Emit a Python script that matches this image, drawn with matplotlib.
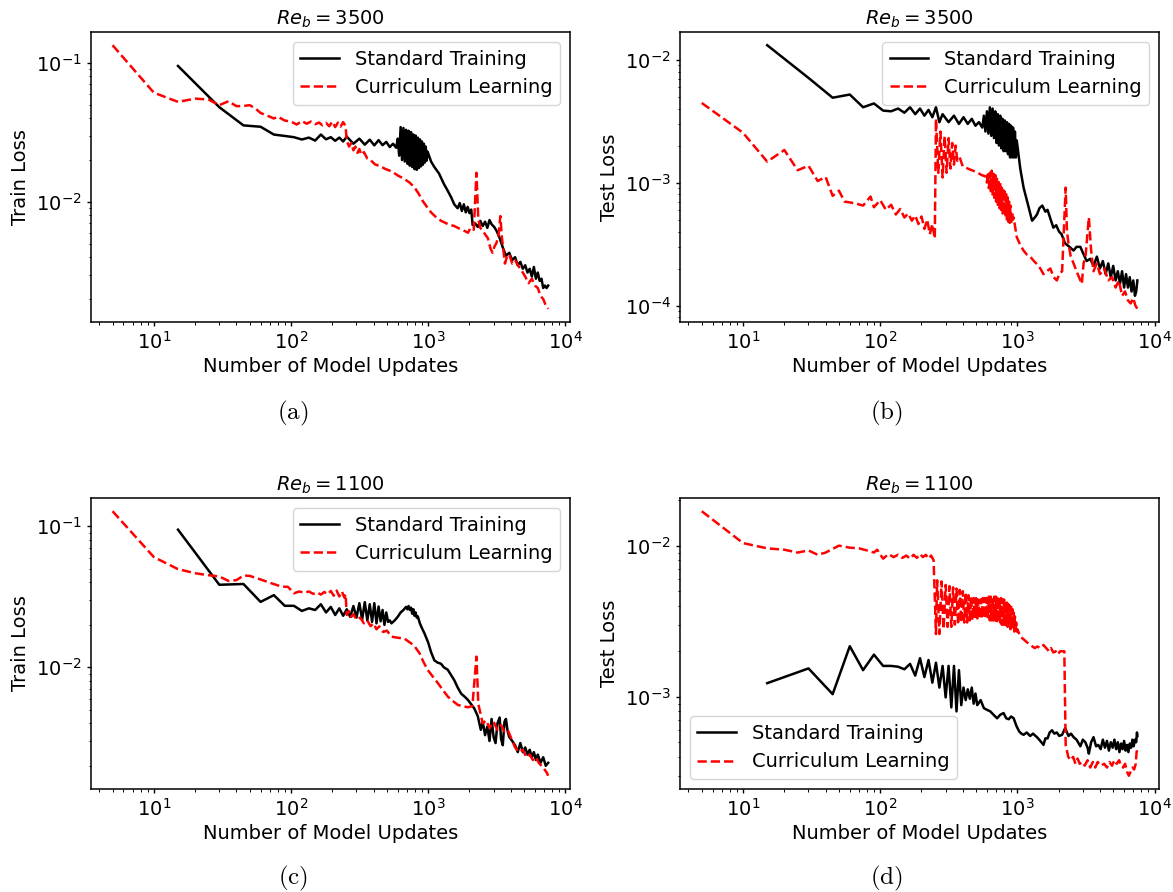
import numpy as np
import matplotlib
matplotlib.use("Agg")
from matplotlib import pyplot as plt

# ---- (a) Re_b = 3500, train loss ----
a_std_x = [15, 30, 45, 60, 75, 90, 105, 120, 135, 150, 165, 180, 195, 210, 225, 240, 255,
           285, 315, 345, 375, 405, 435, 465, 495, 525, 555, 585,
           600, 615, 630, 645, 660, 675, 690, 705, 720, 735, 750, 765, 780, 795, 810, 825,
           840, 855, 870, 885, 900, 915, 930, 945, 960, 975, 990,
           1050, 1110, 1200, 1300, 1390, 1470, 1550, 1640, 1700, 1760, 1820, 1880, 1940, 2000,
           2060, 2110, 2200, 2300, 2400, 2500, 2600, 2700, 2800, 2900, 3030, 3150, 3320, 3500,
           3690, 3900, 4100, 4300, 4500, 4700, 4900, 5100, 5300, 5500, 5700, 5900, 6100, 6300,
           6500, 6700, 6900, 7100, 7300, 7500]
a_std_y = [0.095, 0.048, 0.0355, 0.0347, 0.0305, 0.0298, 0.0292, 0.0281, 0.0290, 0.0276,
           0.0305, 0.0282, 0.0292, 0.0275, 0.0290, 0.0272, 0.0295,
           0.0262, 0.0285, 0.0258, 0.0280, 0.0255, 0.0278, 0.0256, 0.0270, 0.0248, 0.0262, 0.0245,
           0.0285, 0.0215, 0.0345, 0.0200, 0.0340, 0.0195, 0.0330, 0.0188, 0.0325, 0.0182,
           0.0318, 0.0178, 0.0305, 0.0172, 0.0300, 0.0170, 0.0290, 0.0175, 0.0282, 0.0180,
           0.0272, 0.0185, 0.0262, 0.0192, 0.0250, 0.0198, 0.0230,
           0.0195, 0.0178, 0.0160, 0.0135, 0.0120, 0.0108, 0.0096, 0.0090, 0.0098, 0.0086,
           0.0096, 0.0084, 0.0092, 0.0083, 0.0088, 0.0068, 0.0070, 0.0066, 0.0073, 0.0067,
           0.0072, 0.0065, 0.0074, 0.0069, 0.0066, 0.0062, 0.0055, 0.0047,
           0.0041, 0.0043, 0.0038, 0.0040, 0.0035, 0.0037, 0.0033, 0.0035, 0.0031, 0.0033,
           0.0029, 0.0034, 0.0028, 0.0031, 0.0027, 0.0028, 0.0024, 0.0025, 0.0024, 0.0025]
a_cur_x = [5, 10, 15, 20, 25, 30, 35, 40, 45, 50, 55, 60, 70, 75, 80, 90, 100, 110,
           120, 130, 140, 150, 160, 170, 180, 190, 200, 210, 220, 230, 240, 250,
           255, 265, 275, 285, 295, 305, 315, 325, 340, 360, 380, 410, 450, 490, 540, 600,
           670, 730, 795, 850, 915, 980, 1050, 1150, 1245, 1400, 1550, 1700, 1830, 1950,
           2040, 2150, 2250, 2320, 2400, 2550, 2720, 2850, 2950, 3050, 3130, 3250, 3360,
           3450, 3630, 3800, 3930, 4100, 4300, 4600, 4900, 5100, 5400, 5700, 6000, 6300,
           6600, 6900, 7200, 7500]
a_cur_y = [0.134, 0.061, 0.0524, 0.0553, 0.0545, 0.0496, 0.053, 0.0488, 0.0490, 0.0496,
           0.047, 0.0436, 0.0410, 0.0398, 0.0410, 0.0385, 0.0378, 0.0360,
           0.0382, 0.0365, 0.0378, 0.0362, 0.0372, 0.0355, 0.0370, 0.0350, 0.0378, 0.0345,
           0.0372, 0.0348, 0.0375, 0.0350,
           0.0275, 0.0250, 0.0265, 0.0235, 0.0250, 0.0225, 0.0240, 0.0218, 0.0228, 0.0205,
           0.0200, 0.0186, 0.0180, 0.0172, 0.0166, 0.0155,
           0.0146, 0.0138, 0.0127, 0.0115, 0.0101, 0.0092, 0.0084, 0.0077, 0.0073, 0.0069,
           0.0067, 0.0064, 0.0062, 0.0060,
           0.0065, 0.0063, 0.0162, 0.0075, 0.0065, 0.0060, 0.0055, 0.0046, 0.0043, 0.0048,
           0.0050, 0.0056, 0.0079,
           0.0055, 0.0036, 0.0042, 0.0041, 0.0036, 0.0038, 0.0034, 0.0031, 0.0029, 0.0026,
           0.0028, 0.0025, 0.0024, 0.0021, 0.0020, 0.0018, 0.0017]

# ---- (b) Re_b = 3500, test loss ----
b_std_x = [15, 30, 45, 60, 75, 90, 105, 120, 135, 150, 165, 180, 195, 210, 225, 240, 255,
           270, 285, 315, 345, 375, 405, 435, 465, 495, 525, 555,
           570, 585, 600, 615, 630, 645, 660, 675, 690, 705, 720, 735, 750, 765, 780, 795,
           810, 825, 840, 855, 870, 885, 900, 915, 930, 945, 960, 975, 990,
           1050, 1110, 1200, 1280, 1340, 1390, 1450, 1520, 1600, 1660, 1750, 1830, 1920,
           2010, 2100, 2230, 2400, 2570, 2700, 2880, 3000, 3200, 3400, 3590, 3800, 4000,
           4200, 4400, 4600, 4800, 5000, 5200, 5400, 5600, 5800, 6000, 6200, 6400, 6600,
           6800, 7000, 7200, 7350, 7500]
b_std_y = [0.0131, 0.0071, 0.0049, 0.0052, 0.0041, 0.0044, 0.00385, 0.0038, 0.0040, 0.0037,
           0.0041, 0.0036, 0.0040, 0.0035, 0.0039, 0.0034, 0.0041,
           0.0031, 0.0036, 0.0031, 0.0035, 0.0030, 0.0034, 0.0030, 0.0033, 0.0029, 0.0031, 0.0028,
           0.0035, 0.0026, 0.0038, 0.0025, 0.0041, 0.0024, 0.0040, 0.0023, 0.0038, 0.0021,
           0.0036, 0.0020, 0.0035, 0.0019, 0.0033, 0.0018, 0.0032, 0.0018, 0.0031, 0.0017,
           0.0030, 0.0016, 0.0029, 0.0016, 0.0028, 0.0016, 0.0026, 0.0016, 0.0022,
           0.0013, 0.00091, 0.00065, 0.00049, 0.00052, 0.00055, 0.00062, 0.00065, 0.00058,
           0.00060, 0.00050, 0.00043, 0.00045, 0.00040, 0.00038, 0.00032, 0.00030, 0.00028,
           0.00030, 0.00030, 0.00027, 0.00023, 0.00024, 0.00021, 0.00025, 0.00020,
           0.00023, 0.00018, 0.00022, 0.00017, 0.00021, 0.00016, 0.00019, 0.00015, 0.00019,
           0.00014, 0.00018, 0.00014, 0.00017, 0.00013, 0.00016, 0.00012, 0.00013, 0.00016]
b_cur_x = [5, 10, 15, 20, 25, 30, 35, 40, 45, 50, 55, 65, 75, 85, 90, 100, 110, 120, 130,
           140, 150, 160, 170, 180, 190, 200, 210, 220, 230, 240, 250, 255,
           265, 275, 285, 295, 305, 315, 325, 335, 345, 355, 365, 380, 400, 450, 500, 550, 590,
           600, 610, 620, 630, 640, 650, 660, 670, 680, 690, 700, 710, 720, 730, 740, 750,
           760, 770, 780, 790, 800, 810, 820, 830, 840, 850, 860, 870, 880, 890, 900, 915,
           930, 940,
           990, 1050, 1110, 1170, 1240, 1320, 1390, 1470, 1550, 1640, 1740, 1840, 1940, 2020,
           2120, 2250, 2300, 2360, 2450, 2570, 2700, 2880, 2950, 3040, 3150, 3320, 3450, 3590,
           3800, 4000, 4300, 4600, 4900, 5200, 5500, 5800, 6100, 6400, 6700, 7000, 7250, 7500]
b_cur_y = [0.00444, 0.00254, 0.00148, 0.00184, 0.00126, 0.00137, 0.00103, 0.00111, 0.00078,
           0.00086, 0.00070, 0.00068, 0.00065, 0.00077, 0.00063, 0.00072, 0.00060, 0.00066,
           0.00055, 0.00061, 0.00052, 0.00056, 0.00049, 0.00054, 0.00046, 0.00053, 0.00042,
           0.00050, 0.00038, 0.00046, 0.00035, 0.0033,
           0.0012, 0.0026, 0.0011, 0.0024, 0.0012, 0.0023, 0.0013, 0.0021, 0.0014, 0.0020,
           0.0015, 0.0016, 0.00135, 0.00128, 0.00122, 0.00115, 0.00112,
           0.00100, 0.00122, 0.00090, 0.00120, 0.00085, 0.00125, 0.00080, 0.00118, 0.00075,
           0.00115, 0.00070, 0.00110, 0.00066, 0.00105, 0.00062, 0.00100, 0.00060, 0.00095,
           0.00056, 0.00090, 0.00055, 0.00088, 0.00052, 0.00080, 0.00050, 0.00076, 0.00048,
           0.00070, 0.00047, 0.00065, 0.00046, 0.00058, 0.00050, 0.00052,
           0.00036, 0.00031, 0.00028, 0.00026, 0.00025, 0.00023, 0.000217, 0.00020, 0.00018,
           0.00019, 0.00020, 0.00017, 0.00016, 0.00018, 0.00019, 0.00091, 0.00040, 0.00032,
           0.00025, 0.00022, 0.00019, 0.00016, 0.00015, 0.00022, 0.00026, 0.00052, 0.00028,
           0.00019, 0.00022, 0.00018, 0.00020, 0.00016, 0.00017, 0.00014, 0.00016, 0.00012,
           0.00013, 0.00011, 0.000104, 0.000115, 0.000100, 0.000094]

# ---- (c) Re_b = 1100, train loss ----
c_std_x = [15, 30, 45, 60, 75, 90, 105, 120, 135, 150, 165, 180, 195, 210, 225, 240, 255,
           270, 285, 300, 315, 330, 345, 360, 375, 390, 405, 420, 435, 450, 465, 480, 495,
           510, 525, 540, 570, 600, 630, 660, 690, 705, 720, 735, 750, 765, 780, 795, 810,
           825, 840, 870, 900, 940, 1000, 1050, 1110, 1170, 1240, 1300, 1390, 1470, 1550,
           1640, 1740, 1840, 1940, 2050, 2170, 2300, 2420, 2500, 2600, 2700, 2800, 2900,
           3000, 3100, 3200, 3320, 3400, 3500, 3600, 3690, 3800, 3900, 4100, 4300, 4500,
           4700, 4900, 5100, 5300, 5500, 5700, 5900, 6100, 6300, 6600, 6900, 7200, 7500]
c_std_y = [0.0947, 0.0385, 0.039, 0.0291, 0.0325, 0.0273, 0.0273, 0.0251, 0.0262, 0.0255,
           0.0280, 0.0245, 0.0268, 0.0235, 0.0262, 0.0232, 0.0258,
           0.0228, 0.0272, 0.0225, 0.0285, 0.0218, 0.0290, 0.0215, 0.0280, 0.0210, 0.0285,
           0.0205, 0.0270, 0.0212, 0.0255, 0.0200, 0.0245,
           0.0210, 0.0215, 0.0205, 0.0215, 0.0228, 0.0245, 0.0255, 0.0268, 0.0258, 0.0272,
           0.0255, 0.0265, 0.0240, 0.0258, 0.0232, 0.0245,
           0.0225, 0.0230, 0.0205, 0.0190, 0.0174, 0.0150, 0.0128, 0.0112, 0.0108, 0.0106,
           0.0100, 0.0096, 0.0088, 0.0081,
           0.0072, 0.0065, 0.0062, 0.0059, 0.0055, 0.0051, 0.0045, 0.0036, 0.0041, 0.0033,
           0.0038, 0.0030, 0.0043,
           0.0032, 0.0029, 0.0040, 0.0044, 0.0031, 0.0028, 0.0041, 0.0043, 0.0035, 0.0032,
           0.0030, 0.0028, 0.0025,
           0.0029, 0.0025, 0.0027, 0.0024, 0.0026, 0.0023, 0.0025, 0.0022, 0.0024, 0.0021,
           0.0023, 0.0020, 0.0021]
c_cur_x = [5, 10, 15, 20, 25, 30, 35, 40, 45, 50, 60, 70, 85, 95, 105, 115, 125, 135, 145,
           155, 165, 175, 185, 195, 205, 215, 225, 235, 245, 250,
           255, 265, 275, 285, 300, 320, 340, 360, 380, 400, 420, 440, 470, 500, 540, 600,
           670, 750, 800, 865, 920, 990, 1080, 1180, 1280, 1390, 1500, 1650, 1800, 1940,
           2100, 2250, 2320, 2500, 2650, 2800, 3000, 3200, 3400, 3600, 3800, 4000, 4300,
           4600, 4900, 5200, 5500, 5800, 6100, 6400, 6700, 7000, 7300, 7500]
c_cur_y = [0.128, 0.0605, 0.0497, 0.0465, 0.0450, 0.0441, 0.0410, 0.0415, 0.0448, 0.0445,
           0.0420, 0.0398, 0.0374, 0.0372, 0.0335, 0.0345, 0.0338, 0.0345, 0.0332,
           0.0340, 0.0328, 0.0342, 0.0330, 0.0348, 0.0322, 0.0350, 0.0318, 0.0345, 0.0312,
           0.0330,
           0.0235, 0.0250, 0.0228, 0.0238, 0.0218, 0.0225, 0.0205, 0.0215, 0.0196, 0.0205,
           0.0186, 0.0195, 0.0178, 0.0182, 0.0165, 0.0162,
           0.0160, 0.0148, 0.0140, 0.0126, 0.0110, 0.0096, 0.0086, 0.0077, 0.0069, 0.0062,
           0.0058, 0.0054, 0.0053, 0.0052,
           0.0053, 0.0119, 0.0055, 0.0040, 0.0042, 0.0037, 0.0041, 0.0036, 0.0039, 0.0035,
           0.0036, 0.0032, 0.0027,
           0.0025, 0.0026, 0.0023, 0.0024, 0.0022, 0.0023, 0.0021, 0.0020, 0.0019, 0.0018,
           0.0017]

# ---- (d) Re_b = 1100, test loss ----
d_std_x = [15, 30, 45, 60, 75, 90, 105, 120, 135, 150, 165, 180, 195, 210, 225, 240, 255,
           270, 285, 300, 315, 330, 345, 360, 375, 390, 405, 420, 435, 450, 465, 480, 495,
           510, 540, 570, 600, 635, 670, 712, 750, 793, 830, 865, 900, 940, 985, 1030, 1070,
           1110, 1170, 1240, 1300, 1390, 1470, 1550, 1600, 1660, 1720, 1790, 1860, 1940,
           2020, 2120, 2230, 2360, 2460, 2570, 2700, 2880, 3000, 3130, 3250, 3320, 3450,
           3590, 3750, 3890, 4050, 4200, 4350, 4500, 4650, 4800, 4950, 5100, 5250, 5400,
           5550, 5700, 5850, 6000, 6150, 6300, 6450, 6600, 6750, 6900, 7050, 7200, 7350,
           7450, 7500]
d_std_y = [0.00123, 0.00154, 0.00104, 0.00216, 0.0015, 0.0019, 0.0016, 0.0016, 0.00158,
           0.00152, 0.00165, 0.00138, 0.0018, 0.00135, 0.00175, 0.00124, 0.00168,
           0.00115, 0.0016, 0.00099, 0.0016, 0.00085, 0.0016, 0.0008, 0.0015, 0.00088,
           0.00115, 0.00095, 0.00112, 0.00097, 0.00115, 0.0009, 0.00105,
           0.00088, 0.00095, 0.00084, 0.00082, 0.0008, 0.00076, 0.00072, 0.00076, 0.00078,
           0.00072, 0.00071, 0.00074, 0.00072, 0.00064, 0.00059, 0.00057,
           0.00056, 0.00058, 0.00055, 0.00057, 0.00054, 0.00051, 0.00048, 0.00053, 0.00053,
           0.00058, 0.0006, 0.00057, 0.00058,
           0.00055, 0.00056, 0.00062, 0.00055, 0.00057, 0.00054, 0.00052, 0.00047, 0.00052,
           0.0005, 0.00046, 0.00042, 0.0005,
           0.00054, 0.00047, 0.00048, 0.00045, 0.00052, 0.00046, 0.00051, 0.00044, 0.0005,
           0.00046, 0.00052, 0.00045, 0.0005,
           0.00043, 0.00049, 0.00045, 0.00051, 0.00044, 0.00048, 0.00043, 0.00049, 0.00046,
           0.00052, 0.00047, 0.00052, 0.00050,
           0.00058, 0.00055]
d_cur_x = [5, 10, 15, 20, 25, 30, 35, 40, 50, 60, 70, 80, 90, 95, 105, 115, 125, 135, 145,
           155, 165, 175, 185, 195, 205, 215, 225, 235, 245, 255,
           260, 270, 280, 290, 300, 310, 320, 330, 340, 350, 360, 370, 380, 390, 400, 410,
           420, 430, 440, 450, 460, 470, 480, 490, 500, 510, 520, 530, 540, 550, 560, 570,
           580, 590, 600, 610, 620, 630, 640, 650, 660, 670, 680, 690, 700, 710, 720, 730,
           740, 750, 760, 770, 780, 790, 800, 810, 820, 830, 840, 850, 860, 870, 880, 890,
           900, 910, 920, 930, 940, 950, 960, 970, 980, 990, 1000,
           1050, 1110, 1170, 1240, 1340, 1400, 1470, 1550, 1620, 1700, 1760, 1830, 1900,
           1970, 2050, 2120, 2200, 2250, 2350, 2450, 2550, 2650, 2750, 2850, 2970, 3100,
           3250, 3400, 3550, 3700, 3850, 4060, 4300, 4500, 4700, 4900, 5100, 5300, 5520,
           5700, 5900, 6100, 6300, 6500, 6700, 6900, 7100, 7300, 7400, 7500]
d_cur_y = [0.0169, 0.0104, 0.0096, 0.0094, 0.0090, 0.0093, 0.0087, 0.0090, 0.0100, 0.0097,
           0.0096, 0.0093, 0.0090, 0.0094, 0.0082, 0.0088, 0.0084, 0.0087, 0.0083,
           0.0086, 0.0082, 0.0087, 0.0083, 0.0088, 0.0084, 0.0087, 0.0082, 0.0086, 0.0080,
           0.0026,
           0.0059, 0.0026, 0.0058, 0.0028, 0.0055, 0.0029, 0.0054, 0.0029, 0.0053, 0.0030,
           0.0052, 0.0030, 0.0051, 0.0031, 0.0050, 0.0031, 0.0049, 0.0031, 0.0047, 0.0032,
           0.0046, 0.0032, 0.0045, 0.0033, 0.0045, 0.0033, 0.0044, 0.0033, 0.0044, 0.0033,
           0.0045, 0.0033, 0.0045, 0.0033, 0.0045, 0.0033, 0.0046, 0.0032, 0.0046, 0.0032,
           0.0046, 0.0032, 0.0046, 0.0032, 0.0046, 0.0031, 0.0046, 0.0031, 0.0045, 0.0031,
           0.0045, 0.0030, 0.0044, 0.0030, 0.0044, 0.0030, 0.0043, 0.0029, 0.0042, 0.0029,
           0.0041, 0.0029, 0.0040, 0.0028, 0.0040, 0.0028, 0.0038, 0.0028, 0.0036, 0.0027,
           0.0034, 0.0027, 0.0031, 0.0027, 0.0028,
           0.0025, 0.0024, 0.0023, 0.0022, 0.0021, 0.00215, 0.0021, 0.0022, 0.0021, 0.0020,
           0.0021, 0.00196, 0.0020, 0.0019, 0.0020, 0.0020, 0.0020, 0.00048, 0.00040,
           0.00038, 0.00040, 0.00036, 0.00039, 0.00036, 0.00037, 0.00035,
           0.00038, 0.00034, 0.00037, 0.00034, 0.00037, 0.00035, 0.00036, 0.00034, 0.00037,
           0.00035, 0.00038, 0.00036, 0.00038,
           0.00035, 0.00034, 0.00036, 0.00032, 0.00030, 0.00032, 0.00034, 0.00033, 0.00036,
           0.00043, 0.00045]

panels = [
    # x_std, y_std, x_cur, y_cur, ylabel, title, legend loc, caption
    (a_std_x, a_std_y, a_cur_x, a_cur_y, "Train Loss", r"$Re_b = 3500$", "upper right", "(a)"),
    (b_std_x, b_std_y, b_cur_x, b_cur_y, "Test Loss", r"$Re_b = 3500$", "upper right", "(b)"),
    (c_std_x, c_std_y, c_cur_x, c_cur_y, "Train Loss", r"$Re_b = 1100$", "upper right", "(c)"),
    (d_std_x, d_std_y, d_cur_x, d_cur_y, "Test Loss", r"$Re_b = 1100$", "lower left", "(d)"),
]

plt.rcParams["font.size"] = 14
plt.rcParams["axes.linewidth"] = 1.1

fig = plt.figure(figsize=(11.73, 8.92), dpi=100)
# axes boxes in figure fractions: left, bottom, width, height
boxes = [(0.0774, 0.639, 0.4085, 0.3251),
         (0.5797, 0.639, 0.4085, 0.3251),
         (0.0774, 0.1155, 0.4085, 0.3262),
         (0.5797, 0.1155, 0.4085, 0.3262)]
cap_pos = [(0.2498, 0.537), (0.756, 0.537), (0.2498, 0.0157), (0.756, 0.0157)]

for box, cp, (xs, ys, xc, yc, ylab, ttl, loc, cap) in zip(boxes, cap_pos, panels):
    ax = fig.add_axes(box)
    ax.plot(xs, ys, color="k", lw=1.8, label="Standard Training")
    ax.plot(xc, yc, color="r", ls="--", lw=1.8, label="Curriculum Learning")
    ax.set_xscale("log")
    ax.set_yscale("log")
    ax.set_xlabel("Number of Model Updates", fontsize=14, labelpad=3)
    ax.set_ylabel(ylab, fontsize=14)
    ax.set_title(ttl, fontsize=14, pad=5)
    ax.tick_params(which="major", length=3.0, width=1.0, labelsize=14)
    ax.tick_params(which="minor", length=1.8, width=0.7)
    ax.legend(loc=loc, fontsize=14)
    fig.text(cp[0], cp[1], r"$\mathrm{" + cap + "}$", math_fontfamily="cm",
             fontsize=18, ha="center", va="center")

plt.savefig("out.png")
